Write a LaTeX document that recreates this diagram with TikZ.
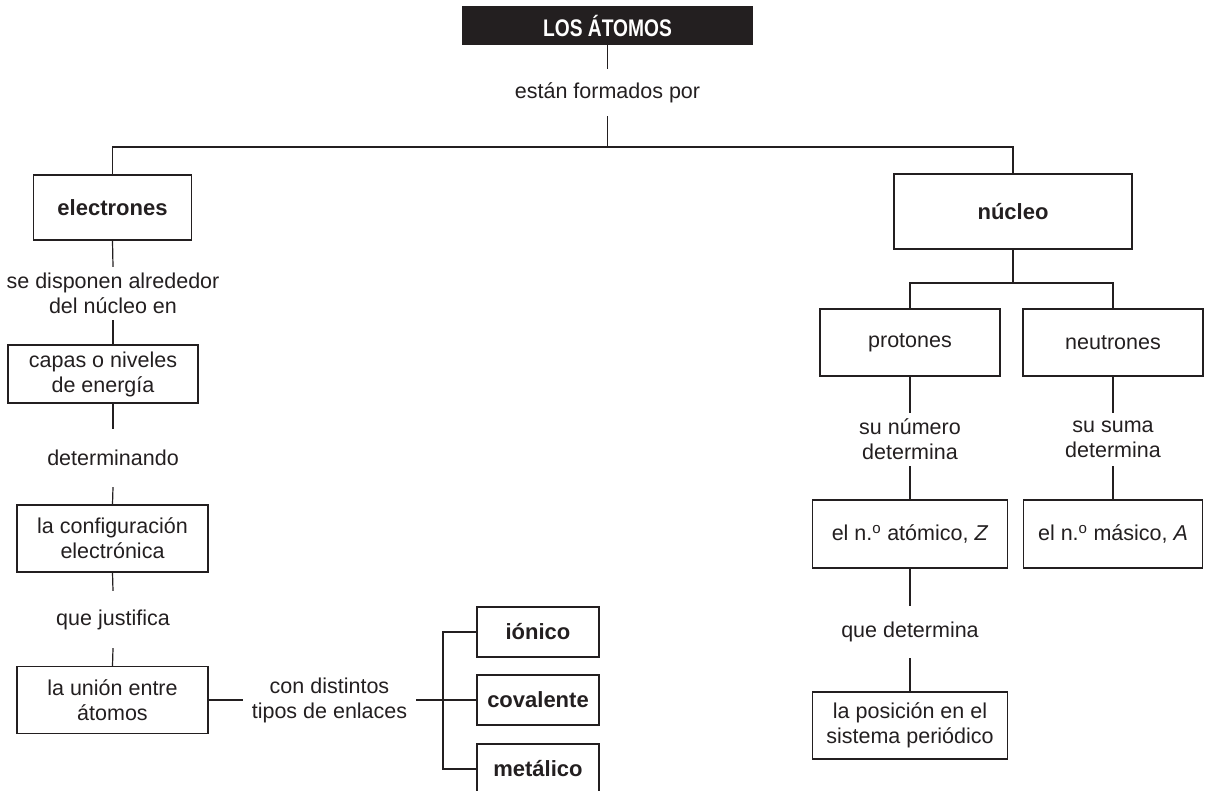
\documentclass[tikz,border=0pt]{standalone}
\usepackage{fontspec}
\setmainfont{Liberation Sans}
\definecolor{tinta}{HTML}{231F20}

\tikzset{
  linea/.style={draw=tinta, line width=1.2pt},
  caja/.style={draw=tinta, line width=1.2pt, inner sep=0pt, align=center, text=tinta, font=\fontsize{21.5}{25}\selectfont},
  negrita/.style={font=\fontsize{22}{25}\selectfont\bfseries},
  enlace/.style={inner sep=0pt, align=center, text=tinta, font=\fontsize{21.5}{25}\selectfont},
}

\begin{document}
\begin{tikzpicture}[x=1pt, y=-1pt]
    \useasboundingbox (0,0) rectangle (1207,791);

    % Title and first link
    \node[fill=tinta, text=white, font=\fontsize{24}{28}\selectfont\bfseries, inner sep=0pt, minimum width=291pt, minimum height=39pt] (atomos) at (607.5,25.5) {\scalebox{0.8}[1]{LOS ÁTOMOS}};
    \node[enlace, minimum height=47pt] (formados) at (607.5,92.5) {están formados por};
    \coordinate (reparto) at (607.5,147);

    % Left branch: electrons
    \node[caja, negrita, minimum width=158pt, minimum height=65pt] (electrones) at (112.5,207.5) {electrones};
    \node[enlace, minimum height=53pt] (disponen) at (113,293.5) {se disponen alrededor\\del núcleo en};
    \node[caja, minimum width=190pt, minimum height=58pt] (capas) at (103,374) {capas o niveles\\de energía};
    \node[enlace, minimum height=58pt] (determinando) at (113,458) {determinando};
    \node[caja, minimum width=191pt, minimum height=67pt] (configuracion) at (112.5,538.5) {la configuración\\electrónica};
    \node[enlace, minimum height=57pt] (justifica) at (113,619.5) {que justifica};
    \node[caja, minimum width=191pt, minimum height=67pt] (union) at (112.5,700) {la unión entre\\átomos};

    % Types of bonds
    \node[enlace, minimum width=173pt] (tipos) at (329.5,700) {con distintos\\tipos de enlaces};
    \coordinate (llave) at (443,700);
    \node[caja, negrita, minimum width=122pt, minimum height=50pt] (ionico) at (538,632) {iónico};
    \node[caja, negrita, minimum width=122pt, minimum height=50pt] (covalente) at (538,700) {covalente};
    \node[caja, negrita, minimum width=122pt, minimum height=50pt] (metalico) at (538,769) {metálico};

    % Right branch: nucleus
    \node[caja, negrita, minimum width=238pt, minimum height=75pt] (nucleo) at (1013,211.5) {núcleo};
    \coordinate (division) at (1013,283);
    \node[caja, minimum width=180pt, minimum height=67pt] (protones) at (910,342.5) {protones};
    \node[caja, minimum width=180pt, minimum height=67pt] (neutrones) at (1113,342.5) {neutrones};
    \node[enlace, minimum height=53pt] (numero) at (910,439.5) {su número\\determina};
    \node[enlace, minimum height=53pt] (suma) at (1113,439.5) {su suma\\determina};
    \node[caja, minimum width=195pt, minimum height=68pt] (atomico) at (910,534) {el n.\textsuperscript{o} atómico, \textit{Z}};
    \node[caja, minimum width=179pt, minimum height=68pt] (masico) at (1113,534) {el n.\textsuperscript{o} másico, \textit{A}};
    \node[enlace, minimum height=52pt] (quedetermina) at (910,632) {que determina};
    \node[caja, minimum width=195pt, minimum height=67pt] (posicion) at (910,725.5) {la posición en el\\sistema periódico};

    % Connectors at the top
    \draw[linea] (atomos.south) -- (formados.north);
    \draw[linea] (formados.south) -- (reparto);
    \draw[linea] (reparto) -| (electrones.north);
    \draw[linea] (reparto) -| (nucleo.north);

    % Connectors on the left
    \draw[linea] (electrones.south) -- (disponen.north);
    \draw[linea] (disponen.south) -- (disponen.south |- capas.north);
    \draw[linea] (determinando.north |- capas.south) -- (determinando.north);
    \draw[linea] (determinando.south) -- (configuracion.north);
    \draw[linea] (configuracion.south) -- (justifica.north);
    \draw[linea] (justifica.south) -- (union.north);
    \draw[linea] (union.east) -- (tipos.west);
    \draw[linea] (tipos.east) -- (covalente.west);
    \draw[linea] (ionico.west) -| (llave) |- (metalico.west);

    % Connectors on the right
    \draw[linea] (nucleo.south) -- (division);
    \draw[linea] (division) -| (protones.north);
    \draw[linea] (division) -| (neutrones.north);
    \draw[linea] (protones.south) -- (numero.north);
    \draw[linea] (numero.south) -- (atomico.north);
    \draw[linea] (neutrones.south) -- (suma.north);
    \draw[linea] (suma.south) -- (masico.north);
    \draw[linea] (atomico.south) -- (quedetermina.north);
    \draw[linea] (quedetermina.south) -- (posicion.north);
\end{tikzpicture}
\end{document}
